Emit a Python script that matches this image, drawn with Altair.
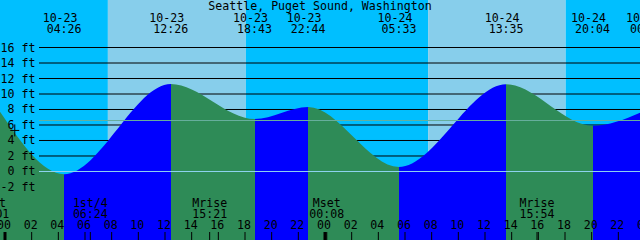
import altair as alt
import pandas as pd

# ---------------- data ----------------
T0, T1 = -0.375, 47.625          # hours since 10-23 00:00 at left / right edge
Y0, Y1 = -8.84, 22.13            # feet at bottom / top edge

title_text = "Seattle, Puget Sound, Washington"

tide_times = ["10-23 04:26", "10-23 12:26", "10-23 18:43", "10-23 22:44",
              "10-24 05:33", "10-24 13:35", "10-24 20:04", "10-25 00:11"]
tide_heights = [-0.36, 11.29, 6.77, 8.32, 0.58, 11.25, 5.90, 8.00]
tide_kinds = ["low", "high", "low", "high", "low", "high", "low", "high"]
edge_height = 7.7                # tide height at the left edge

sun_times = ["10-23 07:43", "10-23 18:04", "10-24 07:44", "10-24 18:03"]

moon_names = ["Mset", "1st/4", "Mrise", "Mset", "Mrise"]
moon_times = ["10-22 23:01", "10-23 06:24", "10-23 15:21", "10-24 00:08", "10-24 15:54"]

grid_feet = [2, 4, 6, 8, 10, 12, 14, 16]
label_feet = [-2, 0, 2, 4, 6, 8, 10, 12, 14, 16]
datum_feet = [0]
mean_feet = [6.58]
hour_ticks = list(range(0, 49, 2))

now_time = ["10-23 00:44"]
now_height = [5.3]

FONT = "DejaVu Sans Mono"
FS = 11.6


def hrs(s):
    d, hm = s.split()
    day = int(d.split("-")[1]) - 23
    h, m = map(int, hm.split(":"))
    return day * 24 + h + m / 60.0


xs = alt.Scale(domain=[T0, T1], nice=False, zero=False)
ys = alt.Scale(domain=[Y0, Y1], nice=False, zero=False)

# ---------------- sky ----------------
sun_h = [hrs(s) for s in sun_times]
bounds = [T0] + sun_h + [T1]
sky = pd.DataFrame({
    "start": bounds[:-1],
    "end": bounds[1:],
    "kind": ["night", "day", "night", "day", "night"],
})
sky_layer = alt.Chart(sky).mark_rect().encode(
    x=alt.X("start:Q", scale=xs, axis=None),
    x2="end:Q",
    y=alt.value(0),
    y2=alt.value(240),
    color=alt.Color("kind:N", scale=alt.Scale(domain=["day", "night"],
                                              range=["#87CEEB", "#00BFFF"]),
                    legend=None),
)

grid_layer = alt.Chart(pd.DataFrame({"ft": grid_feet})).mark_rule(
    color="black", strokeWidth=1).encode(
    y=alt.Y("ft:Q", scale=ys, axis=None),
    x=alt.value(39), x2=alt.value(640),
)

# ---------------- water ----------------
tt = [hrs(s) for s in tide_times]
water = pd.DataFrame({"t": [T0] + tt, "h": [edge_height] + tide_heights})
t_first, t_last = water["t"].min(), water["t"].max()
span = t_last - t_first
stops = []
cur = "#2E8B57"  # falling at the left edge
stops.append(alt.GradientStop(color=cur, offset=0))
for t, k in zip(tt[:-1], tide_kinds[:-1]):
    off = (t - t_first) / span
    new = "#0000FF" if k == "low" else "#2E8B57"
    stops.append(alt.GradientStop(color=cur, offset=off))
    stops.append(alt.GradientStop(color=new, offset=off))
    cur = new
stops.append(alt.GradientStop(color=cur, offset=1))
grad = alt.Gradient(gradient="linear", stops=stops, x1=0, x2=1, y1=0, y2=0)

water_layer = alt.Chart(water).mark_area(
    color=grad, interpolate="monotone", clip=True).encode(
    x=alt.X("t:Q", scale=xs, axis=None),
    y=alt.Y("h:Q", scale=ys, axis=None),
    y2=alt.datum(Y0),
)

datum_layer = alt.Chart(pd.DataFrame({"ft": datum_feet})).mark_rule(
    color="#8FD3F0", strokeWidth=1).encode(
    y=alt.Y("ft:Q", scale=ys, axis=None),
    x=alt.value(39), x2=alt.value(640),
)
mean_layer = alt.Chart(pd.DataFrame({"ft": mean_feet})).mark_rule(
    color="#66AE9C", strokeWidth=1).encode(
    y=alt.Y("ft:Q", scale=ys, axis=None),
    x=alt.value(39), x2=alt.value(640),
)

# ---------------- texts ----------------
title_layer = alt.Chart(pd.DataFrame({"txt": [title_text]})).mark_text(
    font=FONT, fontSize=FS, color="black", align="center", baseline="alphabetic").encode(
    x=alt.value(320), y=alt.value(10.2), text="txt:N")

ylab = pd.DataFrame({"ft": label_feet, "txt": [f"{v} ft" for v in label_feet]})
ylab_layer = alt.Chart(ylab).mark_text(
    font=FONT, fontSize=FS, color="black", align="right", baseline="alphabetic", dy=4).encode(
    x=alt.value(35.5), y=alt.Y("ft:Q", scale=ys, axis=None), text="txt:N")

top = pd.DataFrame({"t": tt,
                    "date": [s.split()[0] for s in tide_times],
                    "time": [s.split()[1] for s in tide_times]})
top_date = alt.Chart(top).mark_text(
    font=FONT, fontSize=FS, color="black", align="center", baseline="alphabetic", dx=-4).encode(
    x=alt.X("t:Q", scale=xs, axis=None), y=alt.value(21.7), text="date:N")
top_time = alt.Chart(top).mark_text(
    font=FONT, fontSize=FS, color="black", align="center", baseline="alphabetic", dx=0).encode(
    x=alt.X("t:Q", scale=xs, axis=None), y=alt.value(33.3), text="time:N")

moon = pd.DataFrame({"t": [hrs(s) for s in moon_times], "name": moon_names,
                     "time": [s.split()[1] for s in moon_times]})
moon_name = alt.Chart(moon).mark_text(
    font=FONT, fontSize=FS, color="black", align="center", baseline="alphabetic").encode(
    x=alt.X("t:Q", scale=xs, axis=None), y=alt.value(206.5), text="name:N")
moon_time = alt.Chart(moon).mark_text(
    font=FONT, fontSize=FS, color="black", align="center", baseline="alphabetic").encode(
    x=alt.X("t:Q", scale=xs, axis=None), y=alt.value(217.7), text="time:N")
moon_tick = alt.Chart(moon).mark_rule(color="black", strokeWidth=1).encode(
    x=alt.X("t:Q", scale=xs, axis=None), y=alt.value(232), y2=alt.value(240))

hours = pd.DataFrame({"t": hour_ticks, "txt": [f"{h % 24:02d}" for h in hour_ticks],
                      "mid": [h % 24 == 0 for h in hour_ticks]})
hour_lab = alt.Chart(hours).mark_text(
    font=FONT, fontSize=FS, color="black", align="center", baseline="alphabetic", dx=-1).encode(
    x=alt.X("t:Q", scale=xs, axis=None), y=alt.value(229.3), text="txt:N")
hour_tick = alt.Chart(hours).transform_filter("!datum.mid").mark_rule(
    color="black", strokeWidth=1).encode(
    x=alt.X("t:Q", scale=xs, axis=None), y=alt.value(232), y2=alt.value(240))
mid_tick = alt.Chart(hours).transform_filter("datum.mid").mark_rule(
    color="black", strokeWidth=3).encode(
    x=alt.X("t:Q", scale=xs, axis=None), y=alt.value(232), y2=alt.value(240))

now_df = pd.DataFrame({"t": [hrs(s) for s in now_time], "h": now_height})
now_layer = alt.Chart(now_df).mark_point(
    shape="M-0.9,0H0.9M0,-1.2V1.2", size=100, filled=False, color="black",
    strokeWidth=1, opacity=1).encode(
    x=alt.X("t:Q", scale=xs, axis=None), y=alt.Y("h:Q", scale=ys, axis=None))

chart = alt.layer(
    sky_layer, grid_layer, water_layer, datum_layer, mean_layer,
    title_layer, ylab_layer, top_date, top_time,
    moon_name, moon_time, moon_tick, hour_lab, hour_tick, mid_tick, now_layer,
).properties(
    width=640, height=240, padding=0, autosize=alt.AutoSizeParams(type="none"),
).configure_view(stroke=None)

chart.save("out.html", embed_options={"renderer": "svg", "actions": False})
